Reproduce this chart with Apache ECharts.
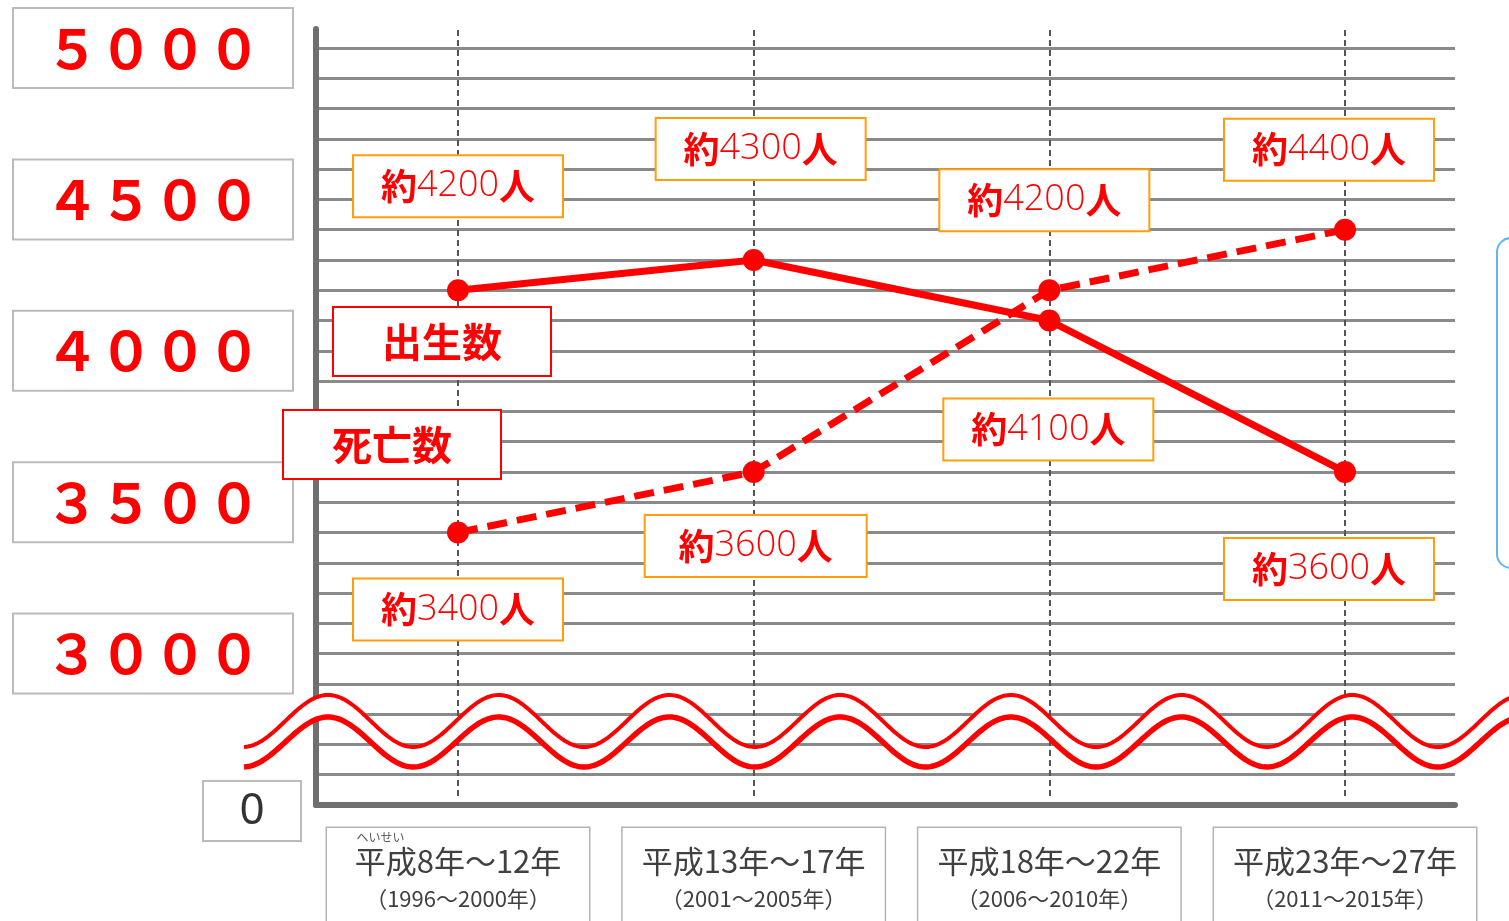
<!DOCTYPE html>
<html>
<head>
<meta charset="utf-8">
<script src="https://cdn.jsdelivr.net/npm/echarts@6/dist/echarts.min.js"></script>
<style>
  html, body { margin: 0; padding: 0; background: #fff; }
  #chart { width: 1509px; height: 921px; }
</style>
</head>
<body>
<div id="chart"></div>
<script>
// Periods (x categories)
const periods = ['平成8年～12年', '平成13年～17年', '平成18年～22年', '平成23年～27年'];
const periodYears = ['（1996～2000年）', '（2001～2005年）', '（2006～2010年）', '（2011～2015年）'];
const periodRuby = ['へいせい', '', '', ''];

// Series values (people)
const births = [4200, 4300, 4100, 3600];
const deaths = [3400, 3600, 4200, 4400];

// Y axis ticks that get a boxed label; the axis floor is shown as 0 below the break
const yTickValues = [5000, 4500, 4000, 3500, 3000];
const yTickLabels = ['５０００', '４５００', '４０００', '３５００', '３０００'];
const yFloor = 2500;
const yTop = 5000;
const floorLabel = '0';

// Callout placement relative to each point: [dx, dy, boxWidth]
const birthCallout = [[0, -104, 208], [7, -111, 208], [-1, 109, 208], [-16, 97, 208]];
const deathCallout = [[0, 77, 208], [2, 74, 220], [-5, -90, 208], [-16, -80, 208]];

const RED = '#ff0000';
const CJK = '"Noto Sans CJK JP", "Noto Sans", sans-serif';

const calloutRich = {
  k: { fontFamily: CJK, fontSize: 36, fontWeight: 'bold', color: RED, lineHeight: 60 },
  n: { fontFamily: '"Open Sans", "Noto Sans", sans-serif', fontSize: 36, fontWeight: 300, color: RED, lineHeight: 60 }
};

function pointItems(values, callouts) {
  return values.map((v, i) => ({
    value: v,
    label: {
      offset: [callouts[i][0], callouts[i][1]],
      width: callouts[i][2]
    }
  }));
}

function lineSeries(name, values, callouts, lineType) {
  return {
    name: name,
    type: 'line',
    xAxisIndex: 2,
    yAxisIndex: 2,
    data: pointItems(values, callouts),
    symbol: 'circle',
    symbolSize: 22,
    itemStyle: { color: RED },
    lineStyle: { color: RED, width: 7, type: lineType },
    z: 5,
    label: {
      show: true,
      position: 'inside',
      formatter: p => `{k|約}{n|${p.value}}{k|人}`,
      height: 60,
      backgroundColor: '#fff',
      borderColor: '#ff9d0a',
      borderWidth: 2,
      rich: calloutRich
    },
    emphasis: { disabled: true },
    animation: false
  };
}

// Axis-break ribbon across the lower part of the plot
const wavePeriod = 170.7, wavePeak = 328;
const upperWave = [], lowerWave = [];
for (let x = 244; x <= 1515; x += 2) {
  const c = Math.cos(2 * Math.PI * (x - wavePeak) / wavePeriod);
  upperWave.push([x, 721 - 26 * c]);
  lowerWave.push([x, 742 - 25 * c]);
}
const waveBand = upperWave.concat(lowerWave.slice().reverse());

const legendCommon = {
  orient: 'vertical',
  padding: 0,
  itemWidth: 0,
  itemHeight: 0,
  icon: 'none',
  selectedMode: false,
  itemStyle: { opacity: 0 },
  lineStyle: { opacity: 0 },
  formatter: name => `{lg|${name}}`,
  textStyle: {
    rich: {
      lg: {
        fontFamily: CJK, fontSize: 40, fontWeight: 'bold', color: RED,
        width: 216, height: 67, align: 'center',
        borderColor: RED, borderWidth: 2, backgroundColor: '#fff'
      }
    }
  }
};

const chart = echarts.init(document.getElementById('chart'), null, { renderer: 'canvas' });

chart.setOption({
  backgroundColor: '#fff',
  animation: false,
  grid: [
    // frame (thick axis lines)
    { left: 316, width: 1139, top: 29, height: 776, outerBoundsMode: 'none' },
    // horizontal rules and value labels
    { left: 316, width: 1139, top: 48, height: 757, outerBoundsMode: 'none' },
    // data
    { left: 458, width: 887, top: 48, height: 757, outerBoundsMode: 'none' },
    // vertical period guides
    { left: 458, width: 887, top: 30, height: 770, outerBoundsMode: 'none' }
  ],
  xAxis: [
    {
      gridIndex: 0, type: 'value', min: 0, max: 1,
      axisLine: { show: true, onZero: false, lineStyle: { color: '#6f6f6f', width: 6 } },
      axisTick: { show: false }, axisLabel: { show: false }, splitLine: { show: false }
    },
    {
      gridIndex: 1, type: 'value', min: 0, max: 1, show: false
    },
    {
      gridIndex: 2, type: 'category', boundaryGap: false, data: periods,
      axisLine: { show: false }, axisTick: { show: false }, splitLine: { show: false },
      axisLabel: {
        interval: 0,
        margin: 23,
        formatter: (val, idx) => {
          const ruby = periodRuby[idx] ? `{ruby|${periodRuby[idx]}}{rubyPad| }` : '{rubyPad| }';
          return `${ruby}\n{main|${val}}\n{sub|${periodYears[idx]}}`;
        },
        width: 262,
        height: 110,
        backgroundColor: '#fff',
        borderColor: '#b4b4b4',
        borderWidth: 1.5,
        padding: 0,
        rich: {
          ruby: { fontFamily: CJK, fontSize: 12, color: '#555', width: 60, lineHeight: 18 },
          rubyPad: { width: 155, lineHeight: 18 },
          main: { fontFamily: CJK, fontSize: 31, color: '#404040', lineHeight: 30 },
          sub: { fontFamily: CJK, fontSize: 22, color: '#404040', lineHeight: 46 }
        }
      }
    },
    {
      gridIndex: 3, type: 'category', boundaryGap: false, data: periods,
      axisLine: { show: false }, axisTick: { show: false }, axisLabel: { show: false },
      splitLine: { show: true, lineStyle: { color: '#555', width: 2, type: [6, 4] } }
    }
  ],
  yAxis: [
    {
      gridIndex: 0, type: 'value', min: 0, max: 1,
      axisLine: { show: true, lineStyle: { color: '#6f6f6f', width: 6 } },
      axisTick: { show: false }, axisLabel: { show: false }, splitLine: { show: false }
    },
    {
      gridIndex: 1, type: 'value', min: yFloor, max: yTop, interval: 100,
      axisLine: { show: false }, axisTick: { show: false },
      splitLine: { show: true, lineStyle: { color: '#8a8a8a', width: 3 } },
      axisLabel: {
        margin: 15,
        showMinLabel: true,
        showMaxLabel: true,
        formatter: v => {
          if (v === yFloor) return `{zero|${floorLabel}}{zsp| }`;
          const k = yTickValues.indexOf(v);
          return k >= 0 ? `{big|${yTickLabels[k]}}{sp| }` : '';
        },
        rich: {
          big: {
            fontFamily: CJK, fontSize: 54, fontWeight: 'bold', color: RED,
            width: 278, height: 78, align: 'center',
            borderColor: '#b8bdb8', borderWidth: 2, backgroundColor: '#fff'
          },
          sp: { width: 9 },
          zero: {
            fontFamily: '"Noto Sans", sans-serif', fontSize: 44, color: '#333',
            width: 96, height: 58, align: 'center', verticalAlign: 'bottom',
            borderColor: '#b8bdb8', borderWidth: 2, backgroundColor: '#fff'
          },
          zsp: { width: 1, height: 70 }
        }
      }
    },
    {
      gridIndex: 2, type: 'value', min: yFloor, max: yTop, show: false
    },
    {
      gridIndex: 3, type: 'value', min: 0, max: 1, show: false
    }
  ],
  legend: [
    Object.assign({}, legendCommon, { data: ['出生数'], left: 329, top: 306 }),
    Object.assign({}, legendCommon, { data: ['死亡数'], left: 279, top: 409 })
  ],
  series: [
    lineSeries('出生数', births, birthCallout, 'solid'),
    lineSeries('死亡数', deaths, deathCallout, [20, 10])
  ],
  graphic: [
    { type: 'polygon', shape: { points: waveBand }, style: { fill: '#fff' }, z: 20, silent: true },
    { type: 'polyline', shape: { points: upperWave }, style: { stroke: RED, lineWidth: 4, fill: 'none' }, z: 21, silent: true },
    { type: 'polyline', shape: { points: lowerWave }, style: { stroke: RED, lineWidth: 5.5, fill: 'none' }, z: 21, silent: true },
    { type: 'rect', shape: { x: 1497, y: 238, width: 60, height: 330, r: 14 }, style: { fill: 'none', stroke: '#62b4f0', lineWidth: 2 }, z: 1, silent: true }
  ]
});
</script>
</body>
</html>
